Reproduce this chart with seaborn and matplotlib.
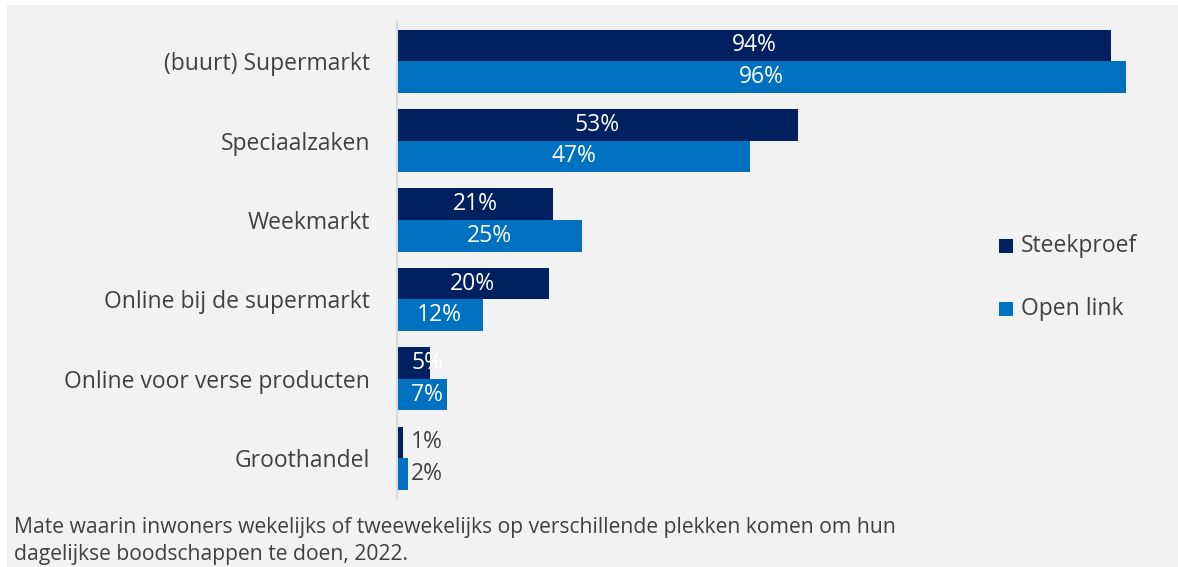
import pandas as pd
import numpy as np
import matplotlib.pyplot as plt
import seaborn as sns
from matplotlib.patches import Rectangle

sns.set_theme(style="white")
plt.rcParams['font.family'] = ['Open Sans', 'DejaVu Sans']

# data (bar lengths estimated, labels as printed)
categories = ['(buurt) Supermarkt', 'Speciaalzaken', 'Weekmarkt',
              'Online bij de supermarkt', 'Online voor verse producten', 'Groothandel']
steekproef = [94.2, 52.9, 20.6, 20.0, 4.4, 0.8]
open_link = [96.2, 46.6, 24.4, 11.3, 6.6, 1.4]
steekproef_labels = ['94%', '53%', '21%', '20%', '5%', '1%']
open_link_labels = ['96%', '47%', '25%', '12%', '7%', '2%']
series = ['Steekproef', 'Open link']
colors = ['#002060', '#0070C0']
caption = ('Mate waarin inwoners wekelijks of tweewekelijks op verschillende plekken komen om hun\n'
           'dagelijkse boodschappen te doen, 2022.')

df = pd.DataFrame({
    'categorie': categories * 2,
    'reeks': [series[0]] * len(categories) + [series[1]] * len(categories),
    'waarde': steekproef + open_link,
})

fig = plt.figure(figsize=(11.78, 5.67), dpi=100, facecolor='white')
# grey chart area with a small white margin top/left
fig.patches.append(Rectangle((7 / 1178, 0), 1, 1 - 5 / 567, transform=fig.transFigure,
                             facecolor='#f2f2f2', edgecolor='none', zorder=-10))

ax = fig.add_axes([397 / 1178, 1 - 497.9 / 567, 758 / 1178, 476.4 / 567])
ax.set_facecolor('none')

sns.barplot(data=df, y='categorie', x='waarde', hue='reeks', orient='h',
            palette=colors, width=0.795, ax=ax, legend=False, saturation=1,
            linewidth=0)

ax.set_xlim(0, 100)
ax.set_ylim(len(categories) - 0.5, -0.5)
ax.set_xlabel('')
ax.set_ylabel('')
ax.set_xticks([])
for side in ['top', 'right', 'bottom']:
    ax.spines[side].set_visible(False)
ax.spines['left'].set_color('#d9d9d9')
ax.spines['left'].set_linewidth(1.5)
ax.tick_params(axis='y', length=0, pad=19.5, labelsize=16.5, labelcolor='#404040')

# value labels
for cont, vals, labs in zip(ax.containers, [steekproef, open_link],
                            [steekproef_labels, open_link_labels]):
    for bar, v, lab in zip(cont, vals, labs):
        y = bar.get_y() + bar.get_height() / 2
        x = max(v / 2, 4.0)
        col = 'white' if v >= 4 else '#404040'
        ax.text(x, y, lab, ha='center', va='center', fontsize=16.5, color=col)

# legend
for i, (name, c) in enumerate(zip(series, colors)):
    ypix = 246 + i * 63
    fig.patches.append(Rectangle((999 / 1178, 1 - (ypix + 7) / 567), 14 / 1178, 14 / 567,
                                 transform=fig.transFigure, facecolor=c, edgecolor='none'))
    fig.text(1021 / 1178, 1 - ypix / 567, name, fontsize=16.5, color='#404040',
             ha='left', va='center')

fig.text(14 / 1178, 1 - 541 / 567, caption, fontsize=15.2, color='#404040',
         ha='left', va='center', linespacing=1.4)

fig.savefig('out.png', dpi=100, facecolor='white')
